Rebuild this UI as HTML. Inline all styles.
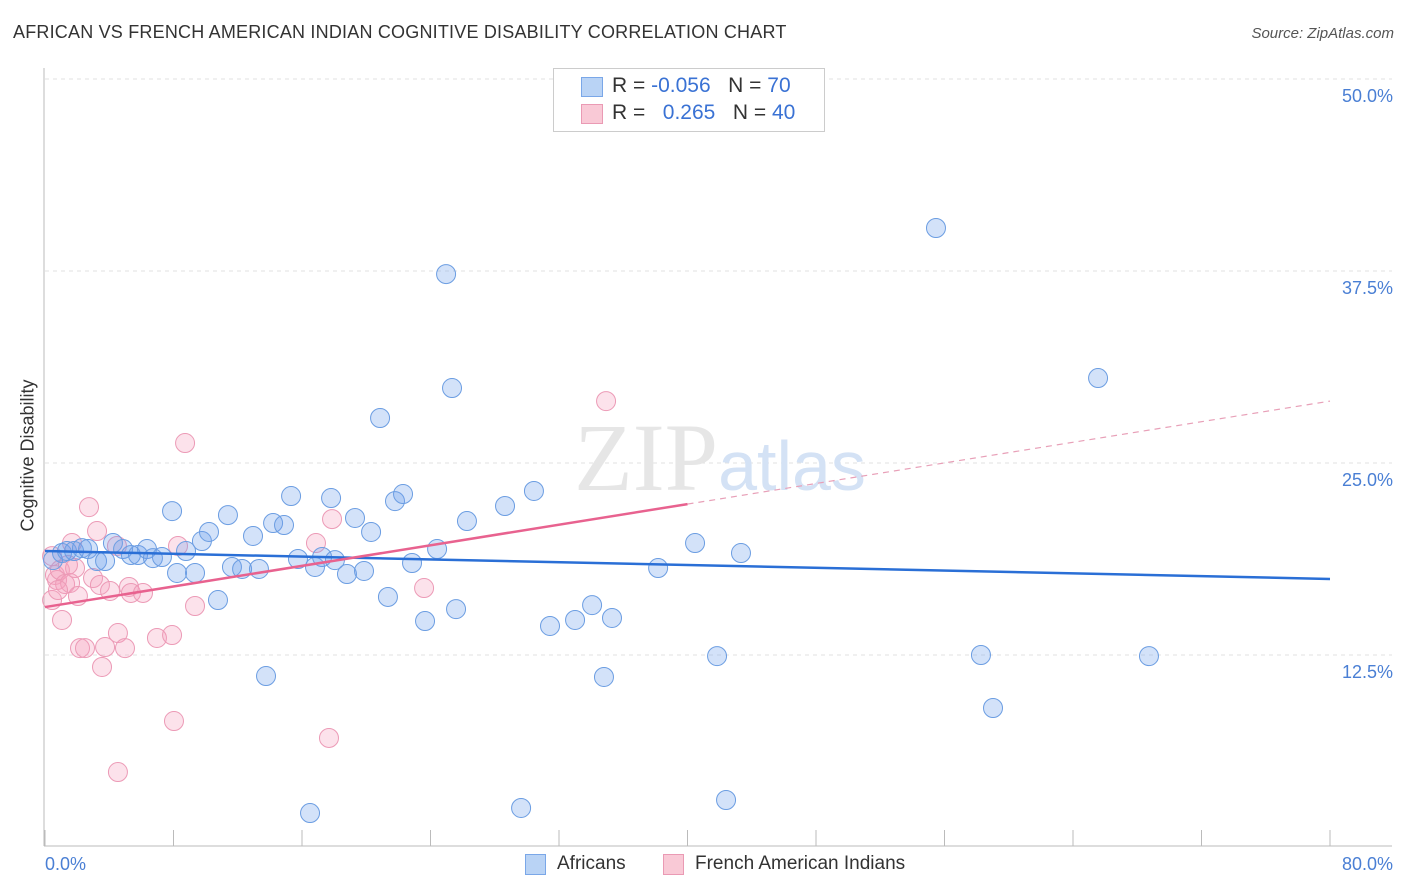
<!DOCTYPE html>
<html><head><meta charset="utf-8"><style>
body{margin:0;background:#fff;font-family:"Liberation Sans",sans-serif;}
#wrap{position:relative;width:1406px;height:892px;overflow:hidden;}
.t{position:absolute;white-space:nowrap;}
</style></head><body>
<div id="wrap">
<div class="t" style="left:13px;top:22px;font-size:18px;color:#333;letter-spacing:0.2px">AFRICAN VS FRENCH AMERICAN INDIAN COGNITIVE DISABILITY CORRELATION CHART</div>
<div class="t" style="right:12px;top:25px;font-size:15px;color:#555;font-style:italic">Source: ZipAtlas.com</div>
<div class="t" style="left:-48px;top:445px;transform:rotate(-90deg);font-size:18px;color:#333">Cognitive Disability</div>
<svg id="svg" width="1406" height="892" style="position:absolute;left:0;top:0"></svg>
<div class="t" style="left:553px;top:68px;width:270px;height:62px;border:1px solid #ccc;background:#fff;font-size:21px">
 <div style="position:absolute;left:27px;top:8px;width:20px;height:18px;background:#b9d3f5;border:1px solid #7aa7e8"></div>
 <div style="position:absolute;left:58px;top:5px;color:#333">R = <span style="color:#3a72d4">-0.056</span>&nbsp;&nbsp;&nbsp;N = <span style="color:#3a72d4">70</span></div>
 <div style="position:absolute;left:27px;top:35px;width:20px;height:18px;background:#f9c9d6;border:1px solid #ea9ab4"></div>
 <div style="position:absolute;left:58px;top:32px;color:#333">R = &nbsp;&nbsp;<span style="color:#3a72d4">0.265</span>&nbsp;&nbsp;&nbsp;N = <span style="color:#3a72d4">40</span></div>
</div>
<div style="position:absolute;left:525px;top:854px;width:19px;height:19px;background:#b9d3f5;border:1px solid #7aa7e8"></div>
<div class="t" style="left:557px;top:853px;font-size:19px;color:#333">Africans</div>
<div style="position:absolute;left:663px;top:854px;width:19px;height:19px;background:#f9c9d6;border:1px solid #ea9ab4"></div>
<div class="t" style="left:695px;top:853px;font-size:19px;color:#333">French American Indians</div>
</div>
<script>
const blueX=[0.5,1.06,1.37,1.81,2.3,2.68,3.24,3.74,4.23,4.86,5.35,5.79,6.35,6.72,7.28,7.91,8.22,8.78,9.34,9.77,10.21,10.77,11.39,11.64,12.27,12.95,13.32,13.76,14.2,14.88,15.32,15.75,16.5,16.81,17.25,17.81,18.05,18.8,19.3,19.86,20.3,20.86,21.35,21.79,22.29,22.85,23.66,24.41,24.97,25.34,25.59,26.27,28.64,29.64,30.44,31.44,33.0,34.06,34.8,35.3,38.17,40.47,41.84,42.4,43.33,55.47,58.27,59.02,65.56,68.73];
const blueY=[18.68,19.14,19.27,19.27,19.46,19.4,18.62,18.62,19.79,19.4,19.01,19.01,19.4,18.81,18.88,21.87,17.84,19.27,17.84,19.92,20.51,16.08,21.61,18.23,18.1,20.25,18.1,11.13,21.09,20.96,22.85,18.75,2.21,18.23,18.88,22.72,18.68,17.77,21.42,17.97,20.51,27.93,16.28,22.52,22.98,18.49,14.71,19.4,37.3,29.88,15.49,21.22,22.2,2.54,23.18,14.39,14.78,15.75,11.07,14.91,18.16,19.79,12.43,3.06,19.14,40.3,12.5,9.05,30.53,12.43];
const pinkX=[0.44,0.62,0.75,0.93,1.06,1.25,1.56,1.68,1.87,2.05,2.18,2.49,2.74,2.99,3.24,3.42,3.55,3.74,4.05,4.48,4.54,4.54,4.98,5.23,5.35,6.1,6.97,7.91,8.03,8.28,8.72,9.34,16.87,17.68,17.87,23.6,34.93,0.44,0.81,1.43];
const pinkY=[18.94,17.71,17.38,18.03,14.78,17.12,17.19,19.79,18.16,16.34,12.95,12.95,22.13,17.51,20.57,17.06,11.72,13.02,16.67,19.6,13.93,4.88,12.95,16.93,16.54,16.54,13.61,13.8,8.2,19.6,26.3,15.69,19.79,7.1,21.35,16.86,29.03,16.08,16.73,18.36];
const blueTrend=[19.27,17.45];
const pinkTrend=[15.62,29.03];
const pinkSolidEnd=40;
const yTicks=[12.5,25,37.5,50];
const yTickLabels=["12.5%","25.0%","37.5%","50.0%"];
const xTicks=[0,8,16,24,32,40,48,56,64,72,80];
const xLabels=["0.0%","80.0%"];
const NS="http://www.w3.org/2000/svg";
const svg=document.getElementById('svg');
const sx=v=>45+v*1285/80, sy=v=>847-v*768/50;
function mk(t,a){const e=document.createElementNS(NS,t);for(const k in a)e.setAttribute(k,a[k]);svg.appendChild(e);return e;}
yTicks.forEach((v,i)=>{
 const g=mk('line',{x1:45,x2:1392,y1:sy(v),y2:sy(v),stroke:'#e2e2e2','stroke-width':1,'stroke-dasharray':'4,4'});
 
 
 const t=mk('text',{x:1393,y:sy(v)+23,'text-anchor':'end','font-size':18,fill:'#4a7fd4','font-family':'Liberation Sans'});
 t.textContent=yTickLabels[i];
 
 
});
const ax=mk('line',{x1:44,x2:44,y1:68,y2:846,stroke:'#bbb'});


const bx=mk('line',{x1:44,x2:1392,y1:846,y2:846,stroke:'#bbb'});


xTicks.forEach(v=>{const l=mk('line',{x1:sx(v),x2:sx(v),y1:830,y2:846,stroke:'#bbb'});
 
 });
[[0,'start',45],[80,'end',1393]].forEach((a,i)=>{const t=mk('text',{x:a[2],y:870,'text-anchor':a[1],'font-size':18,fill:'#4a7fd4','font-family':'Liberation Sans'});t.textContent=xLabels[i];
 
 });
const wm=mk('text',{x:720,y:490,'text-anchor':'middle','font-size':96,fill:'#e6e6e6','font-family':'Liberation Serif'});
wm.innerHTML='ZIP<tspan font-family="Liberation Sans" font-size="70" fill="#d4e2f5">atlas</tspan>';


pinkX.forEach((x,i)=>{const c=mk('circle',{cx:sx(x),cy:sy(pinkY[i]),r:9.5,fill:'rgba(245,160,190,0.3)',stroke:'#ec9ab6','stroke-width':1});
 
 });
blueX.forEach((x,i)=>{const c=mk('circle',{cx:sx(x),cy:sy(blueY[i]),r:9.5,fill:'rgba(110,160,235,0.3)',stroke:'#6b9de2','stroke-width':1});
 
 });
const bl=mk('line',{x1:sx(0),y1:sy(blueTrend[0]),x2:sx(80),y2:sy(blueTrend[1]),stroke:'#2a6fd6','stroke-width':2.5});


const pm=pinkTrend[0]+(pinkTrend[1]-pinkTrend[0])*pinkSolidEnd/80;
const pl=mk('line',{x1:sx(0),y1:sy(pinkTrend[0]),x2:sx(pinkSolidEnd),y2:sy(pm),stroke:'#e8628f','stroke-width':2.5});


const pd=mk('line',{x1:sx(pinkSolidEnd),y1:sy(pm),x2:sx(80),y2:sy(pinkTrend[1]),stroke:'#e8a0b8','stroke-width':1.2,'stroke-dasharray':'6,5'});


</script>
</body></html>
